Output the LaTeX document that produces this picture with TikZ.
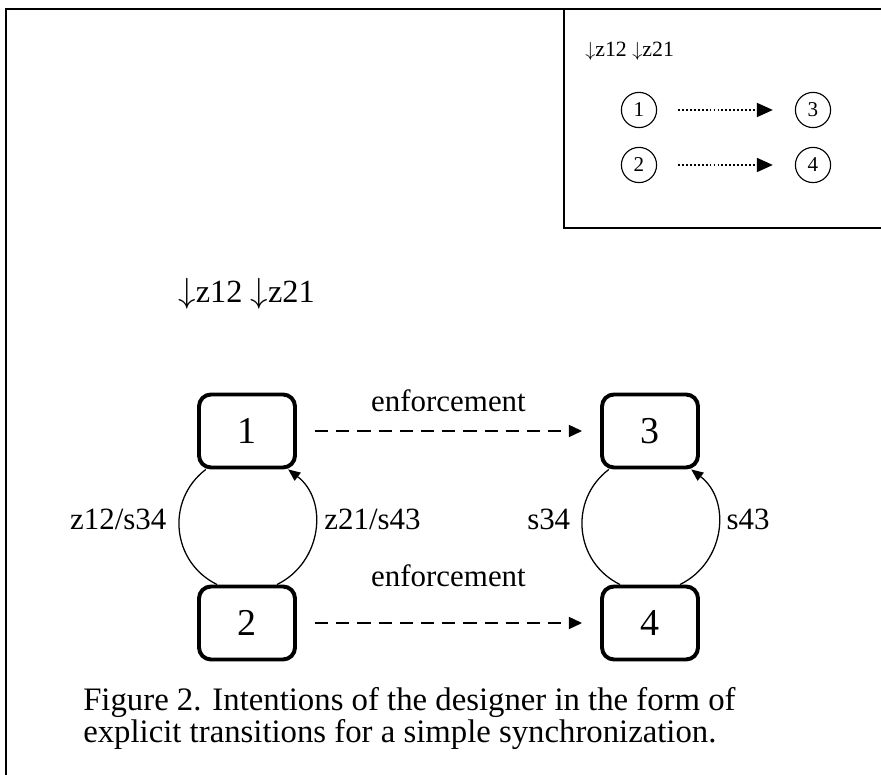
\documentclass[tikz,border=0pt]{standalone}
\usepackage{fontspec}
\setmainfont{Liberation Serif}
\usetikzlibrary{arrows.meta,positioning}

\begin{document}
\begin{tikzpicture}[node distance=4.8cm]

        \tikzstyle{state} = [rectangle, rounded corners=0.3cm, minimum width=2.4cm, minimum height=1.825cm, text centered, draw=black, line width=2.8pt, font=\fontsize{27}{30}\selectfont]
        \tikzstyle{small} = [circle, minimum size=0.88cm, inner sep=0pt, draw=black, line width=0.8pt, font=\fontsize{15}{17}\selectfont]
        \tikzstyle{lbl} = [font=\fontsize{22}{26}\selectfont, inner sep=0pt]
        \tikzstyle{enf} = [line width=1.3pt, dash pattern=on 0.33cm off 0.2cm, -{Triangle[length=0.33cm,width=0.3cm]}, shorten <=0.45cm, shorten >=0.45cm]
        \tikzstyle{dots} = [line width=1.3pt, dash pattern=on 1.3pt off 1.5pt, -{Triangle[length=0.4cm,width=0.35cm]}, shorten <=0.525cm, shorten >=0.55cm]
        \tikzstyle{loop} = [line width=0.9pt]

        \useasboundingbox (0,0) rectangle (22.025,19.375);

        % frames
        \draw [line width=1.6pt] (0.15,-0.1) -- (0.15,19.15) -- (22.2,19.15);
        \draw [line width=0.9pt] (14.1,19.15) -- (14.1,13.675) -- (22.2,13.675);

        % small legend
        \node (smtop) [font=\fontsize{15.5}{17}\selectfont, inner sep=0pt, anchor=base west] at (14.625,17.95) {$\downarrow$z12 $\downarrow$z21};
        \node (sm1) [small] at (15.975,16.625) {1};
        \node (sm3) [small, right of=sm1, node distance=4.35cm] {3};
        \node (sm2) [small, below of=sm1, node distance=1.375cm] {2};
        \node (sm4) [small, below of=sm3, node distance=1.375cm] {4};

        \draw [dots] (sm1) -- (sm3);
        \draw [dots] (sm2) -- (sm4);

        % main part
        \node (top) [font=\fontsize{23}{26}\selectfont, inner sep=0pt, anchor=base west] at (4.45,11.8) {$\downarrow$z12 $\downarrow$z21};

        \node (st1) [state] at (6.175,8.6) {1};
        \node (st3) [state, right of=st1, node distance=10.075cm] {3};
        \node (st2) [state, below of=st1] {2};
        \node (st4) [state, below of=st3] {4};

        \draw [enf] (st1) -- node[lbl, anchor=base, yshift=0.475cm] {enforcement} (st3);
        \draw [enf] (st2) -- node[lbl, anchor=base, yshift=0.9cm] {enforcement} (st4);

        \draw [loop] ([xshift=-1.03cm]st1.south) to[out=217.3, in=153.8, looseness=1.12] node[lbl, left=0.3cm, pos=0.42] {z12/s34} ([xshift=-0.75cm]st2.north);
        \draw [loop, -{Triangle[length=0.3cm,width=0.25cm]}] ([xshift=0.75cm]st2.north) to[out=26.2, in=-37.3, looseness=1.12] node[lbl, right=0.22cm, pos=0.58] {z21/s43} ([xshift=1.03cm]st1.south);

        \draw [loop] ([xshift=-1.03cm]st3.south) to[out=217.3, in=153.8, looseness=1.12] node[lbl, left=0.28cm, pos=0.42] {s34} ([xshift=-0.75cm]st4.north);
        \draw [loop, -{Triangle[length=0.3cm,width=0.25cm]}] ([xshift=0.75cm]st4.north) to[out=26.2, in=-37.3, looseness=1.12] node[lbl, right=0.2cm, pos=0.58] {s43} ([xshift=1.03cm]st3.south);

        \node (caption) [font=\fontsize{23.3}{23}\selectfont, inner sep=0pt, anchor=north west, align=left] at (2.075,2.2) {Figure 2. Intentions of the designer in the form of\\explicit transitions for a simple synchronization.};
    \end{tikzpicture}
\end{document}
